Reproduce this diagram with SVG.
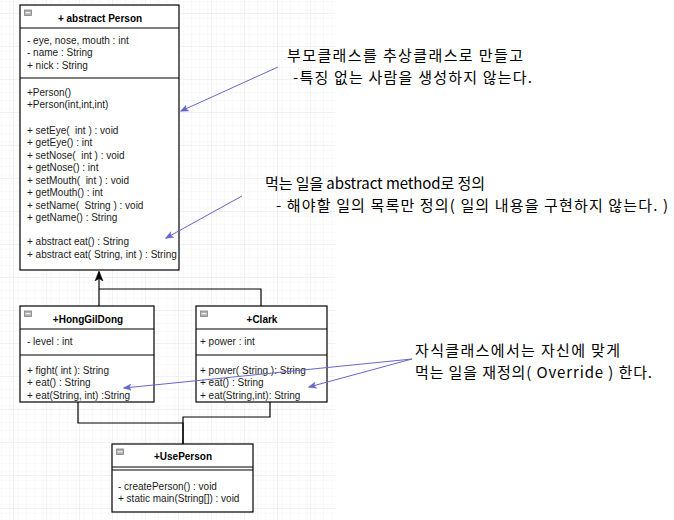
<svg xmlns="http://www.w3.org/2000/svg" width="674" height="520" viewBox="0 0 674 520">
<style>
.box{fill:#fff;stroke:#000;stroke-width:1.2}
.sep{stroke:#000;stroke-width:1.2}
.t{font-family:"Liberation Sans",Arial,sans-serif;font-size:10px;fill:#1a1a1a;white-space:pre}
.h{font-family:"Liberation Sans",Arial,sans-serif;font-size:10px;font-weight:bold;fill:#000;text-anchor:middle}
.note{font-family:"Noto Sans CJK KR","Noto Sans",sans-serif;font-size:15px;fill:#000;white-space:pre}
.ic{fill:#b0b0b0;stroke:#808080;stroke-width:0.8}
.icl{stroke:#fff;stroke-width:1}
.inh{fill:none;stroke:#000;stroke-width:1.2}
.nl{fill:none;stroke:#6666cc;stroke-width:1}
</style>
<defs>
<pattern id="minor" x="13" y="13" width="8.25" height="8.25" patternUnits="userSpaceOnUse">
<path d="M0 0H8.25M0 0V8.25" fill="none" stroke="#f3f3f3" stroke-width="1"/>
</pattern>
<pattern id="major" x="13" y="13" width="33" height="33" patternUnits="userSpaceOnUse">
<rect width="33" height="33" fill="url(#minor)"/>
<path d="M0 0H33M0 0V33" fill="none" stroke="#e6e6e6" stroke-width="1"/>
</pattern>
<marker id="blue" viewBox="0 0 10 10" refX="9" refY="5" markerWidth="8" markerHeight="8" orient="auto" markerUnits="userSpaceOnUse">
<path d="M0 1L10 5L0 9L2.5 5Z" fill="#6666cc" stroke="#6666cc" stroke-width="0.5"/>
</marker>
<marker id="blk" viewBox="0 0 10 10" refX="9" refY="5" markerWidth="10" markerHeight="10" orient="auto" markerUnits="userSpaceOnUse">
<path d="M0 1L10 5L0 9L2.5 5Z" fill="#000" stroke="#000" stroke-width="0.5"/>
</marker>
</defs>
<rect width="674" height="520" fill="#fff"/>
<rect x="0" y="0" width="335" height="520" fill="url(#major)"/>

<g id="person">
<rect class="box" x="20" y="5" width="159" height="265"/>
<line class="sep" x1="20" y1="28" x2="179" y2="28"/>
<line class="sep" x1="20" y1="78" x2="179" y2="78"/>
<rect class="ic" x="24.5" y="10" width="7" height="5.5"/>
<line class="icl" x1="25.5" y1="12.75" x2="30.5" y2="12.75"/>
<text class="h" x="100" y="21.5">+ abstract Person</text>
<text class="t" x="27" y="43.5">- eye, nose, mouth : int</text>
<text class="t" x="27" y="56">- name : String</text>
<text class="t" x="27" y="68.5">+ nick : String</text>
<text class="t" x="27" y="95.5">+Person()</text>
<text class="t" x="27" y="108">+Person(int,int,int)</text>
<text class="t" x="27" y="133.5">+ setEye(  int ) : void</text>
<text class="t" x="27" y="146">+ getEye() : int</text>
<text class="t" x="27" y="158.5">+ setNose(  int ) : void</text>
<text class="t" x="27" y="171">+ getNose() : int</text>
<text class="t" x="27" y="183.5">+ setMouth(  int ) : void</text>
<text class="t" x="27" y="196">+ getMouth() : int</text>
<text class="t" x="27" y="208.5">+ setName(  String ) : void</text>
<text class="t" x="27" y="221">+ getName() : String</text>
<text class="t" x="27" y="245">+ abstract eat() : String</text>
<text class="t" x="27" y="257.5">+ abstract eat( String, int ) : String</text>
</g>

<g id="honggildong">
<rect class="box" x="20" y="306" width="134" height="96"/>
<line class="sep" x1="20" y1="329" x2="154" y2="329"/>
<line class="sep" x1="20" y1="355" x2="154" y2="355"/>
<rect class="ic" x="24.5" y="311" width="7" height="5.5"/>
<line class="icl" x1="25.5" y1="313.75" x2="30.5" y2="313.75"/>
<text class="h" x="88" y="322.5">+HongGilDong</text>
<text class="t" x="27" y="344.5">- level : int</text>
<text class="t" x="27" y="373.5">+ fight( int ): String</text>
<text class="t" x="27" y="386">+ eat() : String</text>
<text class="t" x="27" y="398.5">+ eat(String, int) :String</text>
</g>

<g id="clark">
<rect class="box" x="196" y="306" width="131" height="96"/>
<line class="sep" x1="196" y1="329" x2="327" y2="329"/>
<line class="sep" x1="196" y1="355" x2="327" y2="355"/>
<rect class="ic" x="200.5" y="311" width="7" height="5.5"/>
<line class="icl" x1="201.5" y1="313.75" x2="206.5" y2="313.75"/>
<text class="h" x="262" y="322.5">+Clark</text>
<text class="t" x="200" y="344.5">+ power : int</text>
<text class="t" x="200" y="373.5">+ power( String ): String</text>
<text class="t" x="200" y="386">+ eat() : String</text>
<text class="t" x="200" y="398.5">+ eat(String,int): String</text>
</g>

<g id="useperson">
<rect class="box" x="112" y="444" width="141" height="68"/>
<line class="sep" x1="112" y1="467" x2="253" y2="467"/>
<line class="sep" x1="112" y1="470" x2="253" y2="470"/>
<rect class="ic" x="116.5" y="449" width="7" height="5.5"/>
<line class="icl" x1="117.5" y1="451.75" x2="122.5" y2="451.75"/>
<text class="h" x="183" y="459.5">+UsePerson</text>
<text class="t" x="118" y="489.5">- createPerson() : void</text>
<text class="t" x="118" y="502">+ static main(String[]) : void</text>
</g>

<g id="note1">
<text class="note" x="287" y="60.5" textLength="236" lengthAdjust="spacing">부모클래스를 추상클래스로 만들고</text>
<text class="note" x="293" y="83" textLength="239" lengthAdjust="spacing">-특징 없는 사람을 생성하지 않는다.</text>
</g>
<g id="note2">
<text class="note" x="265" y="188.5" textLength="220" lengthAdjust="spacing">먹는 일을 abstract method로 정의</text>
<text class="note" x="276" y="210.5" textLength="392" lengthAdjust="spacing">- 해야할 일의 목록만 정의( 일의 내용을 구현하지 않는다. )</text>
</g>
<g id="note3">
<text class="note" x="415" y="355.5" textLength="205" lengthAdjust="spacing">자식클래스에서는 자신에 맞게</text>
<text class="note" x="415" y="377.5" textLength="237" lengthAdjust="spacing">먹는 일을 재정의( Override ) 한다.</text>
</g>

<g id="connectors">
<path class="inh" d="M99 306V272" marker-end="url(#blk)"/>
<path class="inh" d="M261 306V289H99"/>
<path class="inh" d="M78 402V423H183V444"/>
<path class="inh" d="M270 402V417H183V444"/>
<path class="nl" d="M278 67L181 111" marker-end="url(#blue)"/>
<path class="nl" d="M242 196L166 238" marker-end="url(#blue)"/>
<path class="nl" d="M412 359L124 388" marker-end="url(#blue)"/>
<path class="nl" d="M412 359L309 387" marker-end="url(#blue)"/>
</g>
</svg>
